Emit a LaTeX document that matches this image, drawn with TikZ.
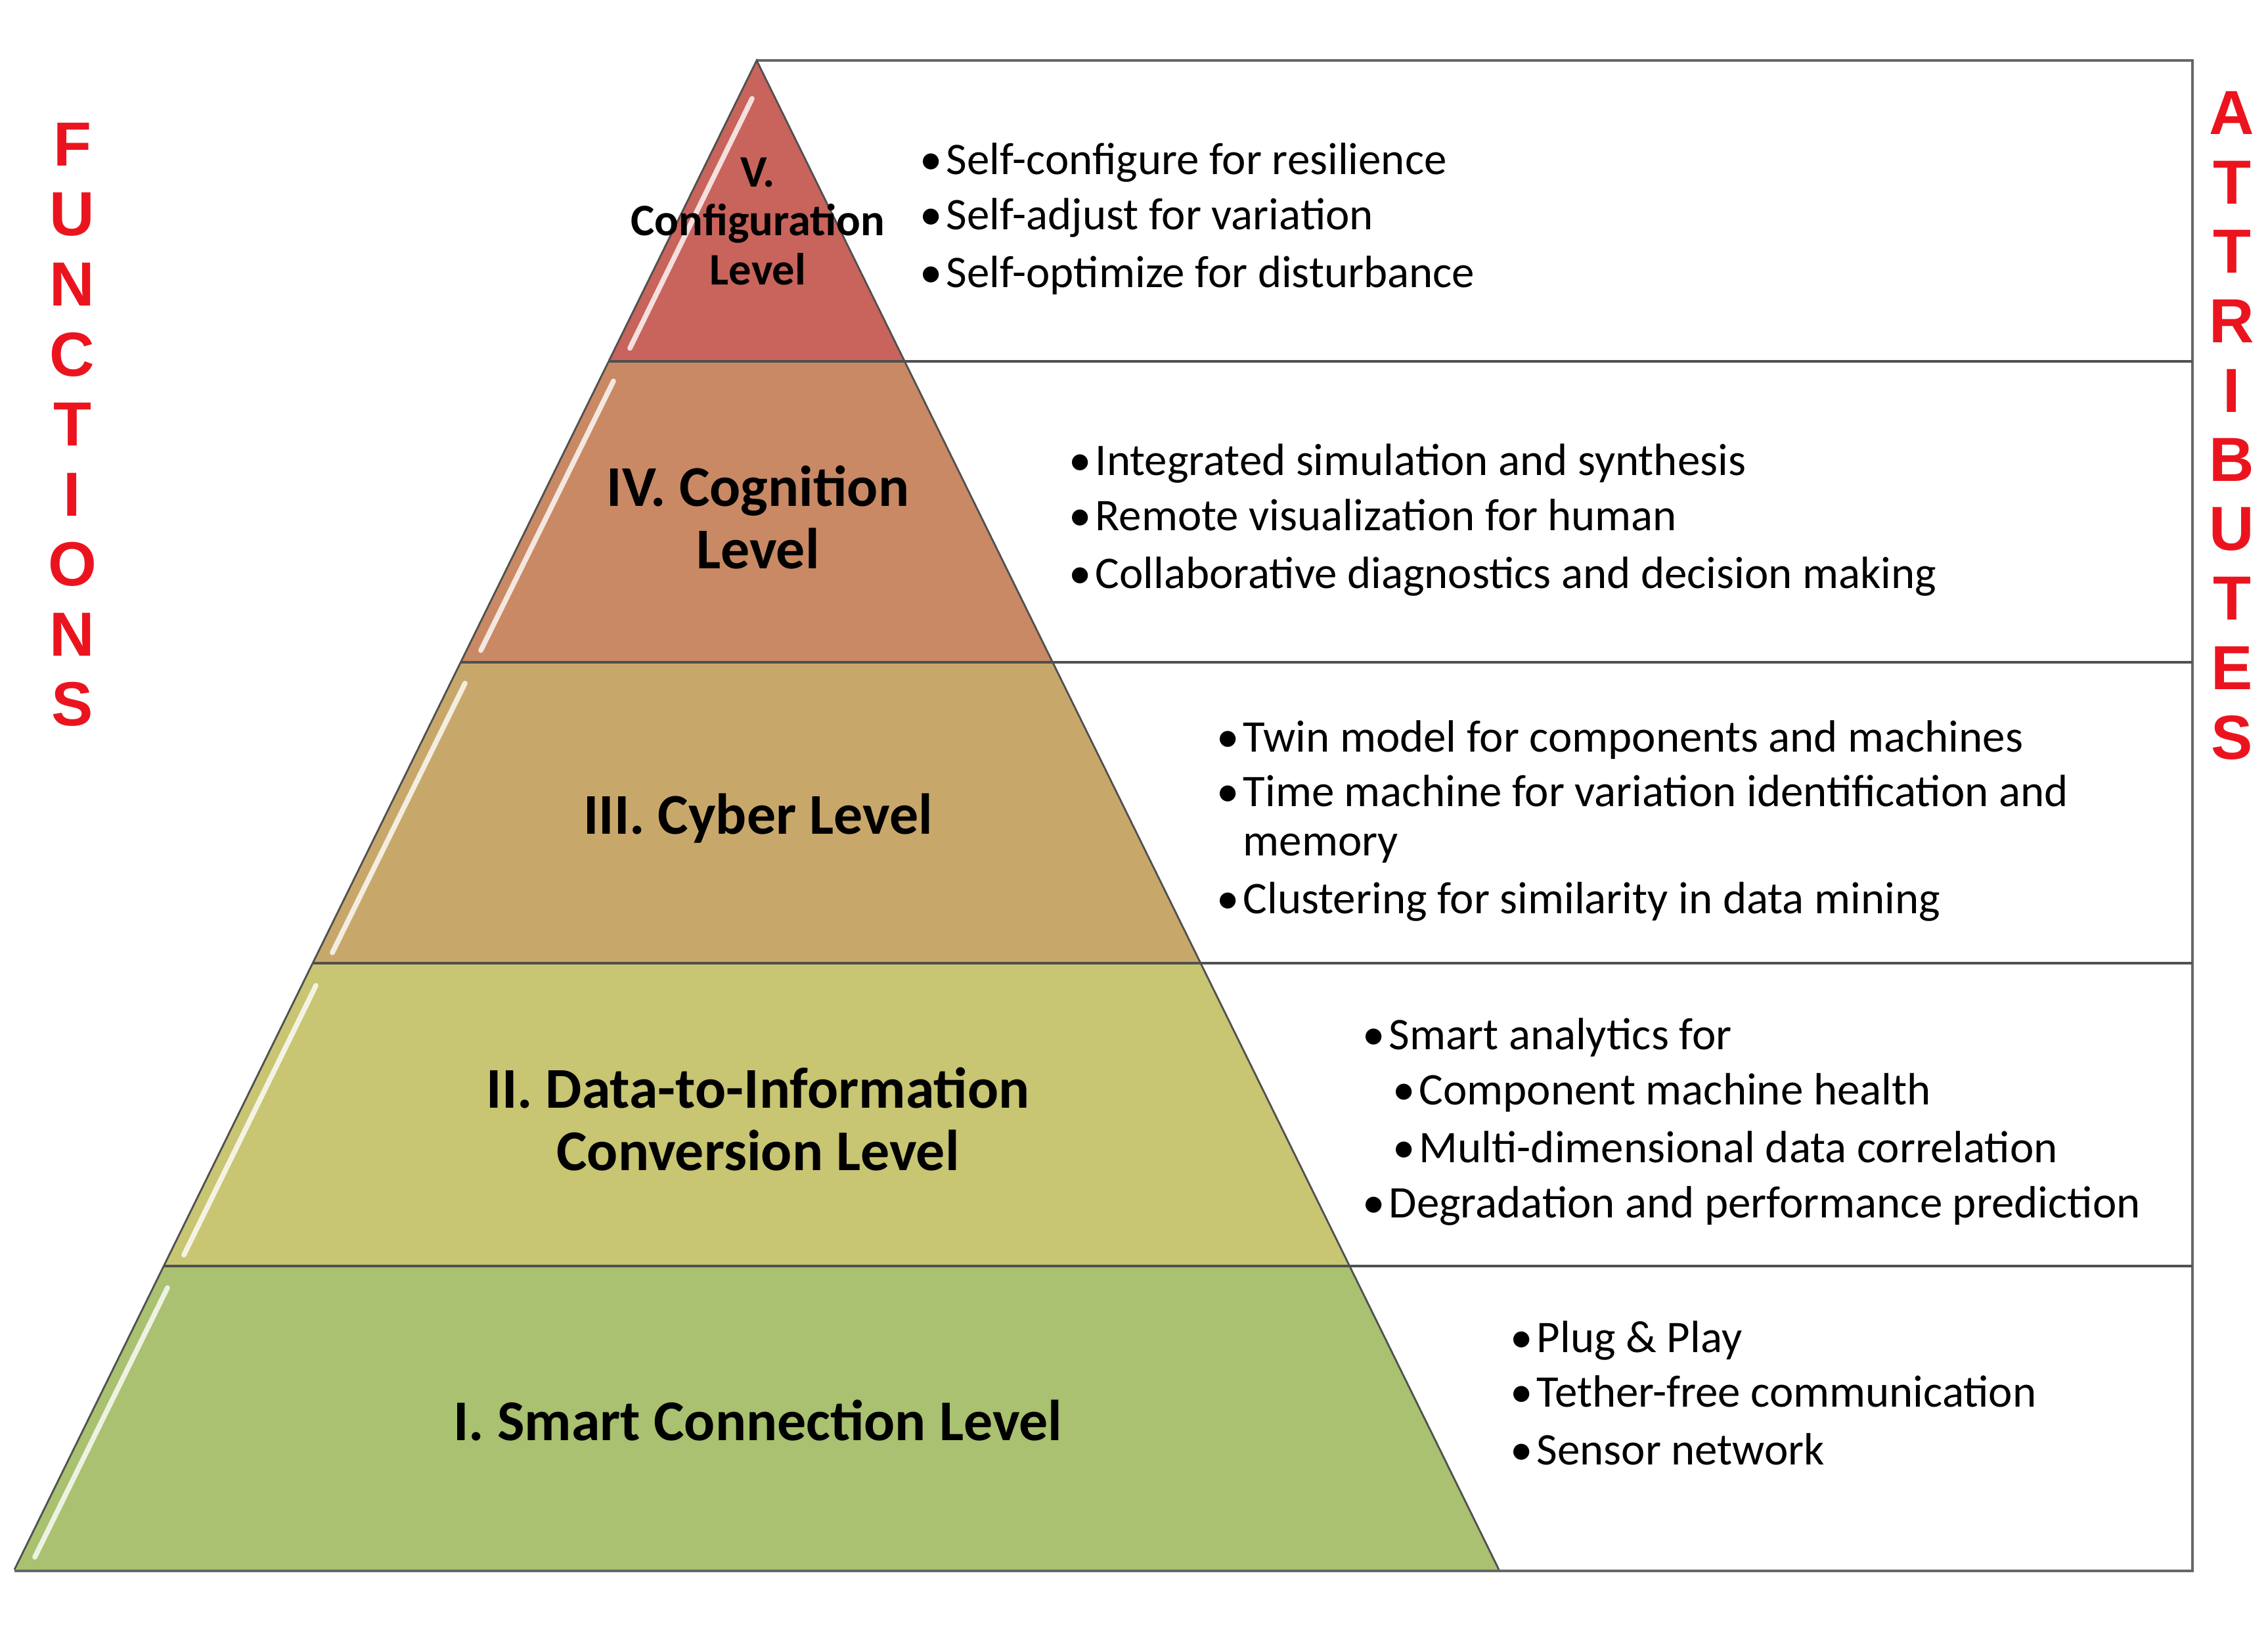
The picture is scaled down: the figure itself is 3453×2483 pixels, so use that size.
\documentclass[tikz,border=0pt]{standalone}
\usepackage{fontspec}
\setmainfont{Carlito}
\newfontfamily\redfont{Liberation Sans}
\definecolor{cV}{RGB}{200,100,92}
\definecolor{cIV}{RGB}{201,137,100}
\definecolor{cIII}{RGB}{200,168,106}
\definecolor{cII}{RGB}{200,197,115}
\definecolor{cI}{RGB}{169,193,112}
\definecolor{edge}{RGB}{80,80,80}
\definecolor{redtxt}{RGB}{235,20,30}
\newcommand\blt{\makebox[4.0mm][l]{•}}
\tikzset{
  lvl/.style={fill=#1, draw=none},
  lvltext/.style={font=\bfseries\fontsize{25}{27}\selectfont, align=center, inner sep=0pt},
  bline/.style={font=\fontsize{19.6}{24}\selectfont, anchor=mid west, inner sep=0pt},
  redletter/.style={font=\redfont\bfseries\fontsize{27}{27}\selectfont, text=redtxt, inner sep=0pt},
  divider/.style={draw=edge, line width=1.1pt},
  boxline/.style={draw=gray!80!black, line width=1.3pt},
  shine/.style={draw=white, opacity=0.8, line width=2.2pt, line cap=round}
}
\begin{document}
\begin{tikzpicture}[x=0.1mm,y=-0.1mm]
\useasboundingbox (0,0) rectangle (3453,2483);
\fill[white] (0,0) rectangle (3453,2483);
% level fills
\fill[lvl=cV]  (1152,92) -- (927,550) -- (1377,550) -- cycle;
\fill[lvl=cIV] (927,550) -- (701,1008) -- (1603,1008) -- (1377,550) -- cycle;
\fill[lvl=cIII] (701,1008) -- (476,1466) -- (1828,1466) -- (1603,1008) -- cycle;
\fill[lvl=cII] (476,1466) -- (249,1927) -- (2055,1927) -- (1828,1466) -- cycle;
\fill[lvl=cI]  (249,1927) -- (22,2389) -- (2282,2389) -- (2055,1927) -- cycle;
% shine along left edges
\draw[shine] (1145,150) -- (959,530);
\draw[shine] (934,580) -- (732,990);
\draw[shine] (708,1040) -- (506,1450);
\draw[shine] (481,1500) -- (280,1910);
\draw[shine] (255,1960) -- (53,2370);
% outer box and dividers
\draw[boxline] (1152,92) -- (3338,92) -- (3338,2391) -- (22,2391);
\draw[divider] (927,550) -- (3338,550);
\draw[divider] (701,1008) -- (3338,1008);
\draw[divider] (476,1466) -- (3338,1466);
\draw[divider] (249,1927) -- (3338,1927);
\draw[draw=edge, line width=0.8pt] (22,2389) -- (1152,92) -- (2282,2389);
% level labels
\node[lvltext, font=\bfseries\fontsize{19.5}{21.3}\selectfont] (l5) at (1154,337) {V.\\Configuration\\Level};
\node[lvltext] (l4) at (1154,787) {IV. Cognition\\Level};
\node[lvltext] (l3) at (1154,1246) {III. Cyber Level};
\node[lvltext] (l2) at (1154,1703) {II. Data-to-Information\\Conversion Level};
\node[lvltext] (l1) at (1154,2162) {I. Smart Connection Level};
% attributes V
\node[bline] (a51) at (1400,257) {\blt Self-configure for resilience};
\node[bline] (a52) at (1400,341) {\blt Self-adjust for variation};
\node[bline] (a53) at (1400,429) {\blt Self-optimize for disturbance};
% IV
\node[bline] (a41) at (1627,715) {\blt Integrated simulation and synthesis};
\node[bline] (a42) at (1627,799) {\blt Remote visualization for human};
\node[bline] (a43) at (1627,887) {\blt Collaborative diagnostics and decision making};
% III
\node[bline] (a31) at (1852,1136) {\blt Twin model for components and machines};
\node[bline] (a32) at (1852,1219) {\blt Time machine for variation identification and};
\node[bline] (a33) at (1852,1294) {\hspace*{4.0mm}memory};
\node[bline] (a34) at (1852,1382) {\blt Clustering for similarity in data mining};
% II
\node[bline] (a21) at (2074,1589) {\blt Smart analytics for};
\node[bline] (a22) at (2120,1673) {\blt Component machine health};
\node[bline] (a23) at (2120,1761) {\blt Multi-dimensional data correlation};
\node[bline] (a24) at (2074,1845) {\blt Degradation and performance prediction};
% I
\node[bline] (a11) at (2299,2050) {\blt Plug \& Play};
\node[bline] (a12) at (2299,2133) {\blt Tether-free communication};
\node[bline] (a13) at (2299,2221) {\blt Sensor network};
% side words
\foreach \ch [count=\i from 0] in {F,U,N,C,T,I,O,N,S}
  \node[redletter] (f\i) at (110,{220+106.5*\i}) {\ch};
\foreach \ch [count=\i from 0] in {A,T,T,R,I,B,U,T,E,S}
  \node[redletter] (t\i) at (3398,{172+105.6*\i}) {\ch};
\end{tikzpicture}
\end{document}
